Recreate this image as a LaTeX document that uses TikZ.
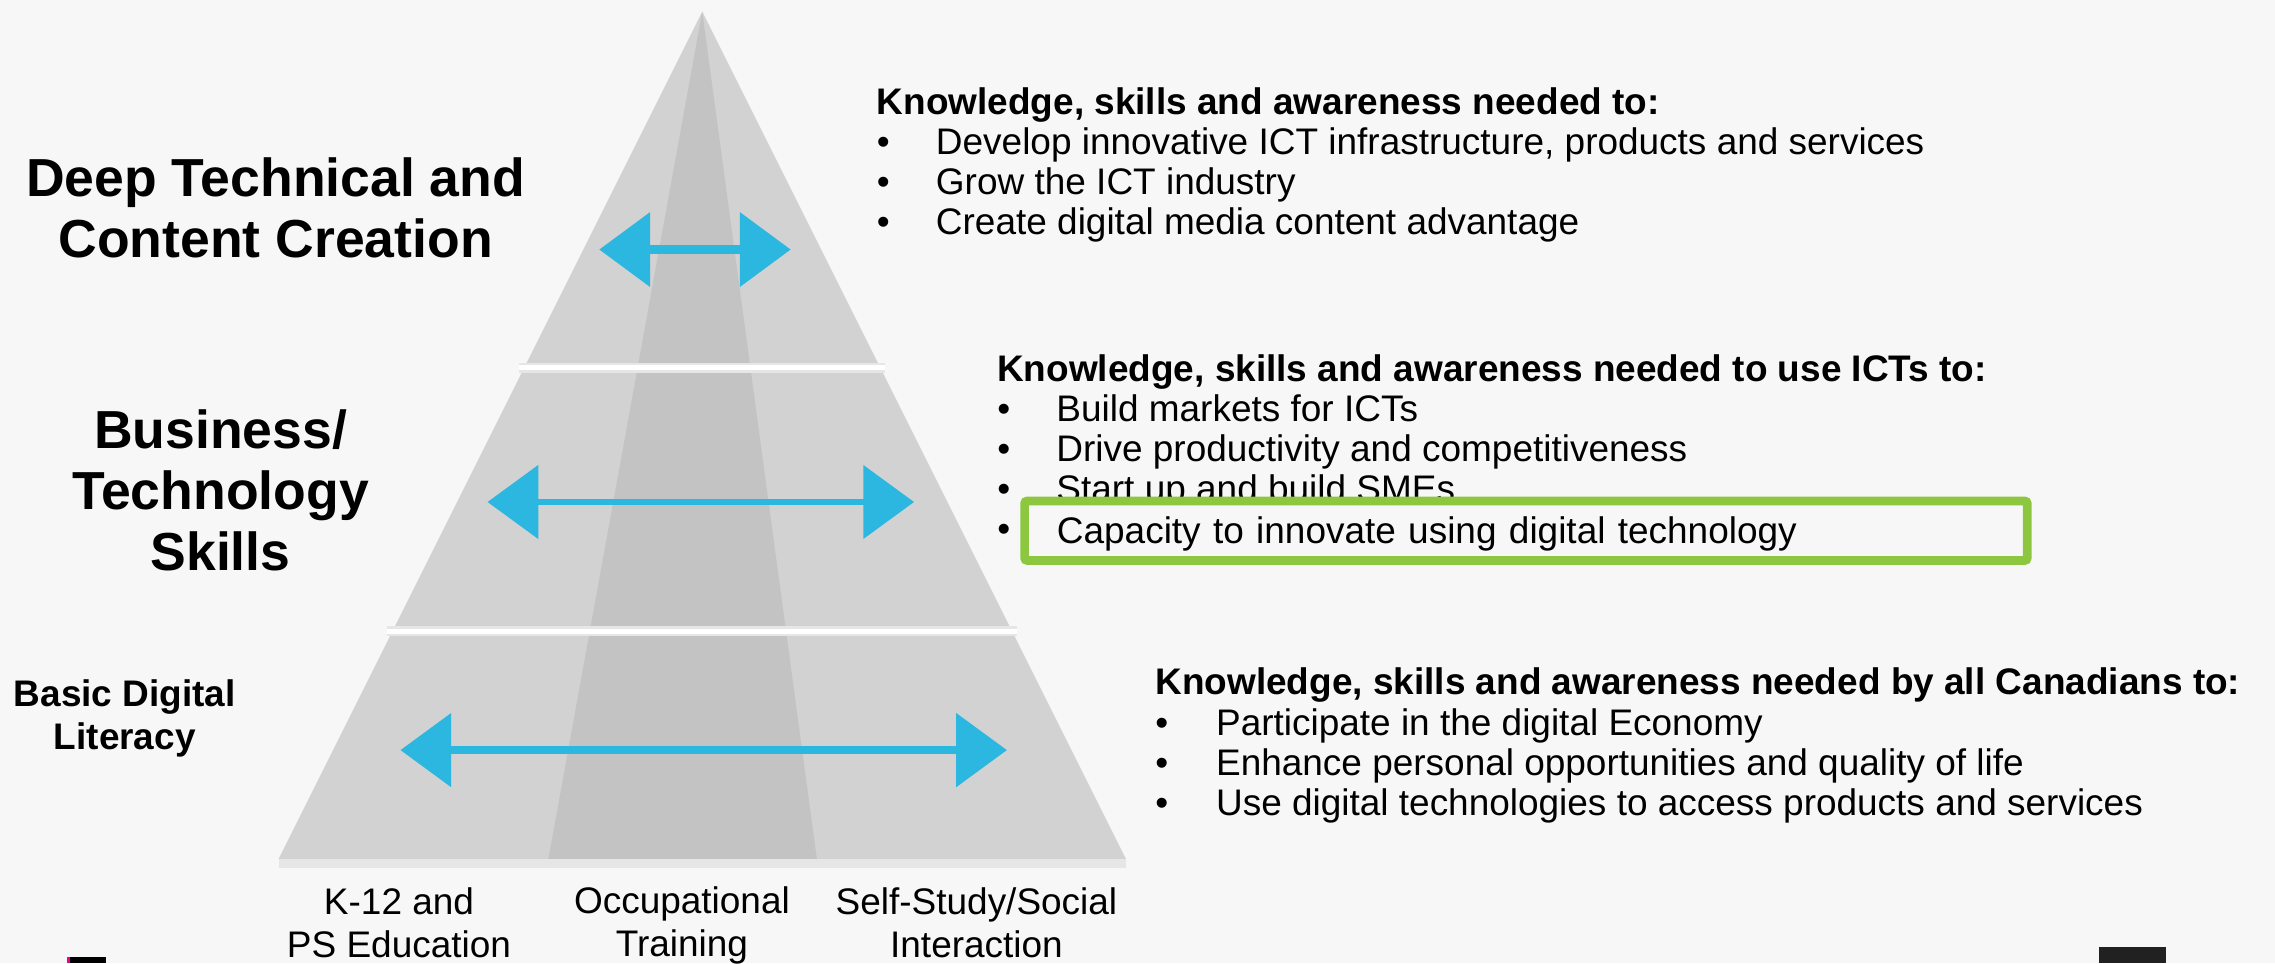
\documentclass[tikz,border=0pt]{standalone}
\usepackage{fontspec}
\setmainfont{Liberation Sans}
\usepackage{xcolor}
\usetikzlibrary{arrows.meta}
\definecolor{bgGray}{HTML}{F7F7F7}
\definecolor{tierLight}{HTML}{D2D2D2}
\definecolor{tierMid}{HTML}{C3C3C3}
\definecolor{tierGap}{HTML}{E6E6E6}
\definecolor{arrowCyan}{HTML}{2BB7E0}
\definecolor{boxGreen}{HTML}{8DC63F}

\begin{document}
\begin{tikzpicture}[x=0.2mm, y=-0.2mm,
		bigTitle/.style={align=center, inner sep=0pt, font=\fontsize{21}{24}\selectfont\bfseries},
		smallTitle/.style={align=center, inner sep=0pt, font=\fontsize{14.5}{17}\selectfont\bfseries},
		pathLabel/.style={align=center, inner sep=0pt, font=\fontsize{14.5}{17}\selectfont},
		needsList/.style={anchor=base west, inner sep=0pt, font=\fontsize{14.5}{15.7}\selectfont},
		flowArrow/.style={draw=arrowCyan, {Triangle[length=7mm,width=10mm]}-{Triangle[length=7mm,width=10mm]}}]
			\fill[bgGray] (0,0) rectangle (1568,664);
			\useasboundingbox (0,0) rectangle (1568,664);

			\fill[tierLight] (484,8) -- (776,592) -- (192,592) -- cycle;
			\fill[tierMid] (484,8) -- (563,592) -- (378,592) -- cycle;
			\fill[tierGap] (192,592) rectangle (776,598);
			\draw[tierGap, line width=1.4mm] (358,253.5) -- (610,253.5);
			\draw[white, line width=0.7mm] (358,253.5) -- (610,253.5);
			\draw[tierGap, line width=1.4mm] (267,435) -- (701,435);
			\draw[white, line width=0.7mm] (267,435) -- (701,435);

			\coordinate (topL) at (413,172);
			\coordinate (topR) at (545,172);
			\coordinate (midL) at (336,346);
			\coordinate (midR) at (630,346);
			\coordinate (lowL) at (276,517);
			\coordinate (lowR) at (694,517);
			\draw[flowArrow, line width=1.2mm] (topL) -- (topR);
			\draw[flowArrow, line width=0.9mm] (midL) -- (midR);
			\draw[flowArrow, line width=1mm] (lowL) -- (lowR);

			\node (deepTitle) [bigTitle] at (190,143) {Deep Technical and\\Content Creation};
			\node (bizTitle) [bigTitle] at (152,338) {Business/\\Technology\\Skills};
			\node (basicTitle) [smallTitle] at (86,495) {Basic Digital\\Literacy};

			\node (k12Label) [pathLabel] at (275,636) {K-12 and\\PS Education};
			\node (occLabel) [pathLabel] at (470,638) {Occupational\\Training};
			\node (selfLabel) [pathLabel] at (673,636) {Self-Study/Social\\Interaction};

			\node (deepNeeds) [needsList] at (604,79) {
				\begin{tabular}[t]{@{}p{23.2pt}@{}l@{}}
					\multicolumn{2}{@{}l@{}}{\textbf{Knowledge, skills and awareness needed to:}} \\
					\textbullet & Develop innovative ICT infrastructure, products and services \\
					\textbullet & Grow the ICT industry \\
					\textbullet & Create digital media content advantage \\
				\end{tabular}
			};
			\node (bizNeeds) [needsList] at (687,263) {
				\begin{tabular}[t]{@{}p{23.2pt}@{}l@{}}
					\multicolumn{2}{@{}l@{}}{\textbf{Knowledge, skills and awareness needed to use ICTs to:}} \\
					\textbullet & Build markets for ICTs \\
					\textbullet & Drive productivity and competitiveness \\
					\textbullet & Start up and build SMEs \\
					\textbullet & \\
				\end{tabular}
			};
			\node (basicNeeds) [needsList] at (796,479) {
				\begin{tabular}[t]{@{}p{23.8pt}@{}l@{}}
					\multicolumn{2}{@{}l@{}}{\textbf{Knowledge, skills and awareness needed by all Canadians to:}} \\
					\textbullet & Participate in the digital Economy \\
					\textbullet & Enhance personal opportunities and quality of life \\
					\textbullet & Use digital technologies to access products and services \\
				\end{tabular}
			};

			\node (capBox) [draw=boxGreen, line width=1.2mm, rounded corners=1pt, fill=bgGray, anchor=west, minimum width=138.2mm, minimum height=8.2mm, inner xsep=4.45mm, text width=129.3mm, text height=12pt, text depth=2pt, align=left, font=\fontsize{14.5}{15.7}\selectfont] at (703.2,365.8) {Capacity to innovate using digital technology};

			\fill[black] (47,659.5) rectangle (73,664);
			\fill[magenta] (46,659.5) rectangle (48,664);
			\fill[black!87] (1447,653) rectangle (1493,664);
		\end{tikzpicture}
\end{document}
